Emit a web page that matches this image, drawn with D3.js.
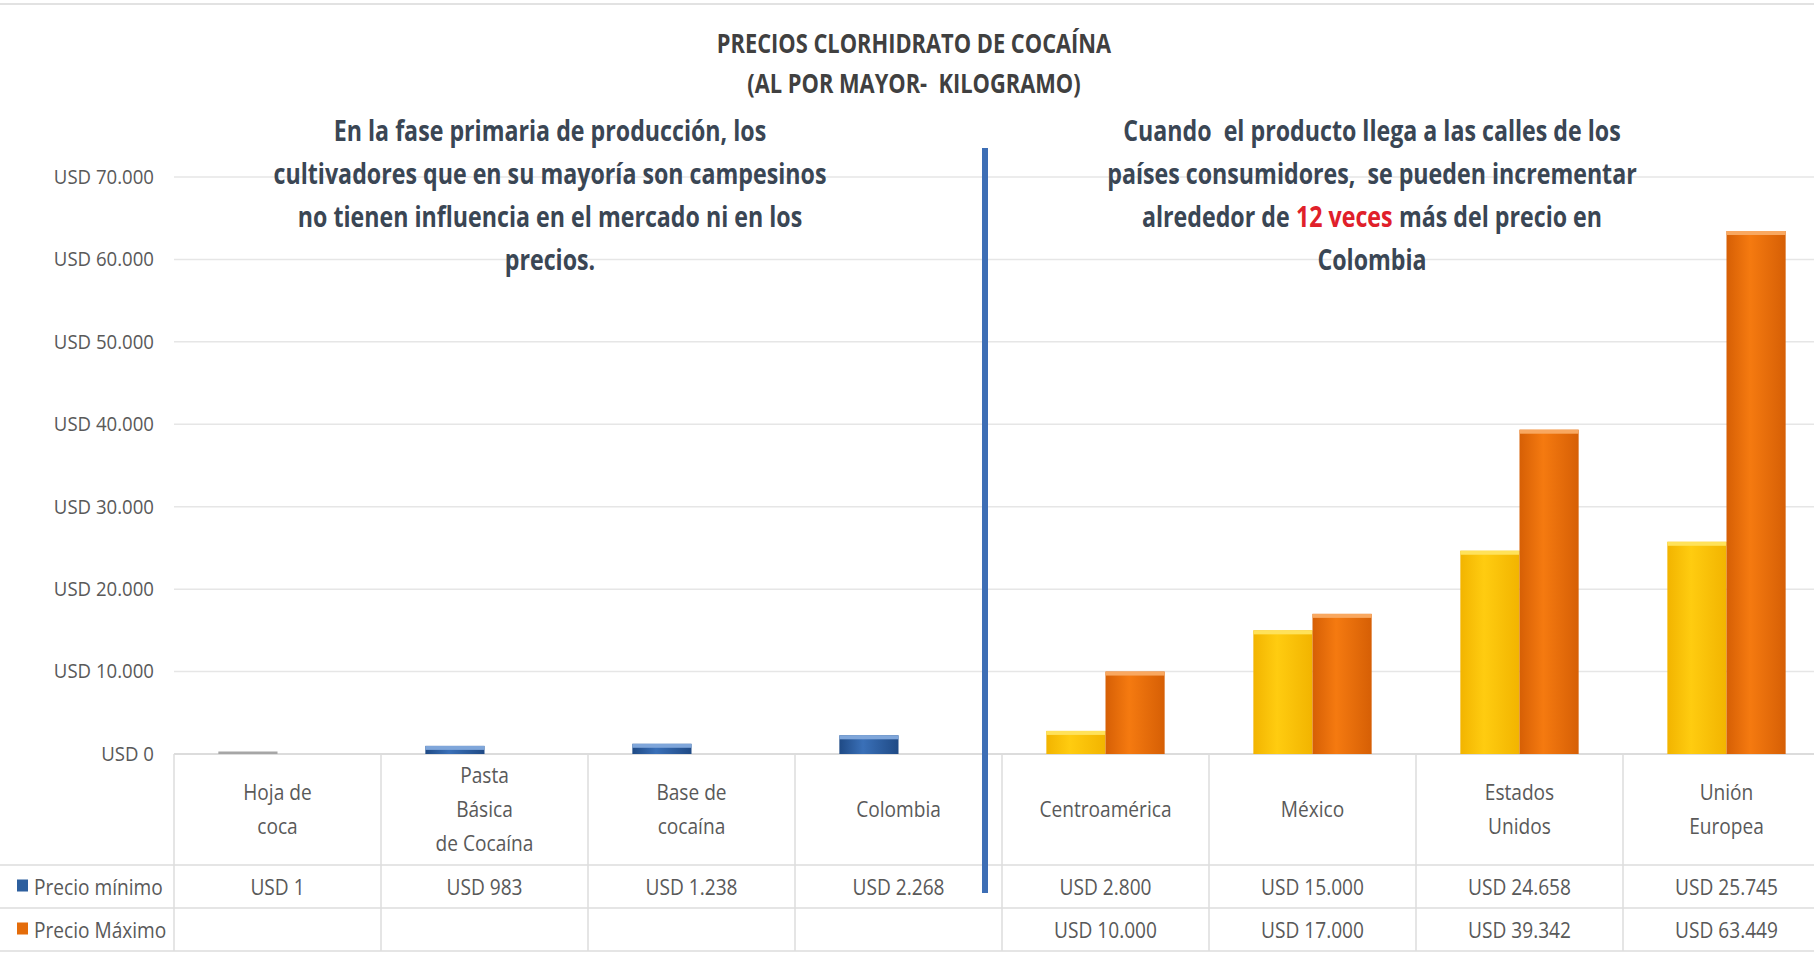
<!DOCTYPE html>
<html>
<head>
<meta charset="utf-8">
<script src="https://cdn.jsdelivr.net/npm/d3@7"></script>
<style>
  body { margin: 0; background: #fff; }
  text { font-family: "Open Sans", sans-serif; }
</style>
</head>
<body>
<script>
// datos
var categorias = ["Hoja de coca", "Pasta Básica de Cocaína", "Base de cocaína", "Colombia",
  "Centroamérica", "México", "Estados Unidos", "Unión Europea"];
var etiquetas = [["Hoja de", "coca"], ["Pasta", "Básica", "de Cocaína"], ["Base de", "cocaína"], ["Colombia"],
  ["Centroamérica"], ["México"], ["Estados", "Unidos"], ["Unión", "Europea"]];
var precioMinimo = [1, 983, 1238, 2268, 2800, 15000, 24658, 25745];
var precioMaximo = [null, null, null, null, 10000, 17000, 39342, 63449];
var series = ["Precio mínimo", "Precio Máximo"];
var yTicks = [0, 10000, 20000, 30000, 40000, 50000, 60000, 70000];
var nProduccion = 4; // las primeras categorias son fase de produccion

var W = 1814, H = 958;
var margin = {top: 177, left: 174, bottom: 204};
var plotBottom = H - margin.bottom; // 754

var locale = d3.formatLocale({decimal: ",", thousands: ".", grouping: [3], currency: ["", ""]});
var fmt = locale.format(",d");
var usd = function(v){ return "USD " + fmt(v); };

// estrecha el texto para parecerse a Calibri
function condense(sel, f) {
  sel.each(function() {
    var w = this.getComputedTextLength();
    d3.select(this).attr("textLength", w * f).attr("lengthAdjust", "spacingAndGlyphs");
  });
}

var svg = d3.select("body").append("svg")
  .attr("width", W)
  .attr("height", H);

var defs = svg.append("defs");
function grad(id, c1, c2) {
  var g = defs.append("linearGradient").attr("id", id)
    .attr("x1", "0%").attr("x2", "100%").attr("y1", "0%").attr("y2", "0%");
  g.append("stop").attr("offset", "0%").attr("stop-color", c2);
  g.append("stop").attr("offset", "40%").attr("stop-color", c1);
  g.append("stop").attr("offset", "100%").attr("stop-color", c2);
}
grad("gBlue", "#3a70b8", "#1f4a85");
grad("gYellow", "#ffcc10", "#f2b400");
grad("gOrange", "#f57a10", "#d65f05");

// borde superior
svg.append("line")
  .attr("x1", 0).attr("x2", W).attr("y1", 4).attr("y2", 4)
  .attr("stroke", "#e2e2e2").attr("stroke-width", 2);

var x = d3.scaleBand().domain(categorias).range([margin.left, margin.left + 207 * categorias.length]);
var x1 = d3.scaleBand().domain(series).range([0, x.bandwidth()]).paddingOuter(0.75);
var y = d3.scaleLinear().domain([0, 70000]).range([plotBottom, margin.top]);

// lineas de cuadricula
svg.append("g")
  .attr("class", "grid")
  .selectAll("line")
  .data(yTicks)
  .enter().append("line")
  .attr("x1", margin.left).attr("x2", W)
  .attr("y1", function(d){ return y(d); })
  .attr("y2", function(d){ return y(d); })
  .attr("stroke", function(d){ return d === 0 ? "#d0d0d0" : "#e6e6e6"; })
  .attr("stroke-width", 1.5);

// eje Y
var yAxis = svg.append("g")
  .attr("transform", "translate(" + (margin.left - 20) + ",0)")
  .call(d3.axisLeft(y).tickValues(yTicks).tickFormat(usd).tickSize(0).tickPadding(0));
yAxis.select(".domain").remove();
yAxis.selectAll("text")
  .attr("fill", "#595959")
  .style("font-size", "20px")
  .style("font-family", "'Open Sans', sans-serif")
  .call(condense, 0.93);

// barras
var barras = svg.append("g");
categorias.forEach(function(c, i) {
  var vals = [precioMinimo[i], precioMaximo[i]];
  vals.forEach(function(v, j) {
    if (v === null) return;
    var fill = j === 1 ? "url(#gOrange)" : (i < nProduccion ? "url(#gBlue)" : "url(#gYellow)");
    var top = y(v);
    var h = Math.max(plotBottom - top, 2.5);
    var bx = x(c) + x1(series[j]);
    barras.append("rect")
      .attr("x", bx).attr("y", plotBottom - h)
      .attr("width", x1.bandwidth()).attr("height", h)
      .attr("fill", i === 0 ? "#a6a6a6" : fill);
    if (h > 6) {
      var capColor = j === 1 ? "#f9a860" : (i < nProduccion ? "#7fa6da" : "#ffe25a");
      barras.append("rect")
        .attr("x", bx).attr("y", plotBottom - h)
        .attr("width", x1.bandwidth()).attr("height", 4)
        .attr("fill", capColor);
    }
  });
});

// tabla de datos
var tabla = svg.append("g");
var rowY = [plotBottom, 865, 908, 951];
var lineColor = "#dcdcdc";
rowY.slice(1).forEach(function(ry) {
  tabla.append("line")
    .attr("x1", 0).attr("x2", W).attr("y1", ry).attr("y2", ry)
    .attr("stroke", lineColor).attr("stroke-width", 1.5);
});
categorias.forEach(function(c, i) {
  var xl = x(c);
  tabla.append("line")
    .attr("x1", xl).attr("x2", xl)
    .attr("y1", plotBottom).attr("y2", rowY[3])
    .attr("stroke", lineColor).attr("stroke-width", 1.5);
  var lines = etiquetas[i];
  var cx = xl + x.bandwidth() / 2;
  var midY = (rowY[0] + rowY[1]) / 2 + 7;
  lines.forEach(function(t, k) {
    tabla.append("text")
      .attr("x", cx)
      .attr("y", midY + (k - (lines.length - 1) / 2) * 34)
      .attr("text-anchor", "middle")
      .attr("fill", "#595959")
      .style("font-size", "21px")
      .text(t)
      .call(condense, 0.91);
  });
  [precioMinimo[i], precioMaximo[i]].forEach(function(v, j) {
    if (v === null) return;
    tabla.append("text")
      .attr("x", cx)
      .attr("y", (rowY[j + 1] + rowY[j + 2]) / 2 + 8)
      .attr("text-anchor", "middle")
      .attr("fill", "#595959")
      .style("font-size", "21px")
      .text(usd(v))
      .call(condense, 0.91);
  });
});

// leyenda en la tabla
var legendColors = ["#2d5f9e", "#e46c0a"];
series.forEach(function(s, j) {
  var cy = (rowY[j + 1] + rowY[j + 2]) / 2;
  tabla.append("rect")
    .attr("x", 17).attr("y", cy - 7).attr("width", 11).attr("height", 12)
    .attr("fill", legendColors[j]);
  tabla.append("text")
    .attr("x", 34).attr("y", cy + 8)
    .attr("fill", "#595959")
    .style("font-size", "21px")
    .text(s)
    .call(condense, 0.91);
});

// linea divisoria entre produccion y consumo
var divX = x(categorias[nProduccion]) - 17;
svg.append("line")
  .attr("x1", divX).attr("x2", divX)
  .attr("y1", 148).attr("y2", 893)
  .attr("stroke", "#3d6eb5").attr("stroke-width", 6);

// titulo
var titulo = ["PRECIOS CLORHIDRATO DE COCAÍNA", "(AL POR MAYOR-  KILOGRAMO)"];
titulo.forEach(function(t, k) {
  svg.append("text")
    .attr("x", 914).attr("y", 53 + k * 40)
    .attr("text-anchor", "middle")
    .attr("fill", "#404040")
    .style("font-size", "26px")
    .style("font-weight", "bold")
    .style("white-space", "pre")
    .text(t)
    .call(condense, 0.84);
});

// anotaciones
var notaIzq = ["En la fase primaria de producción, los", "cultivadores que en su mayoría son campesinos",
  "no tienen influencia en el mercado ni en los", "precios."];
notaIzq.forEach(function(t, k) {
  svg.append("text")
    .attr("x", 550).attr("y", 141 + k * 43)
    .attr("text-anchor", "middle")
    .attr("fill", "#3a4654")
    .style("font-size", "29px")
    .style("font-weight", "bold")
    .text(t)
    .call(condense, 0.8);
});

var notaDer = [["Cuando  el producto llega a las calles de los"], ["países consumidores,  se pueden incrementar"],
  ["alrededor de", "12 veces", "más del precio en"], ["Colombia"]];
var espacio = 8;
notaDer.forEach(function(parts, k) {
  // cada trozo es un texto aparte; el grupo se estrecha con scale
  var g = svg.append("g")
    .attr("transform", "translate(1372," + (141 + k * 43) + ") scale(0.8,1)");
  var piezas = parts.map(function(p) {
    var t = g.append("text")
      .attr("y", 0)
      .attr("fill", p === "12 veces" ? "#e0202a" : "#3a4654")
      .style("font-size", "29px")
      .style("font-weight", "bold")
      .style("white-space", "pre")
      .text(p);
    return {t: t, w: t.node().getComputedTextLength()};
  });
  var total = d3.sum(piezas, function(d){ return d.w; }) + espacio * (piezas.length - 1);
  var cx = -total / 2;
  piezas.forEach(function(d) {
    d.t.attr("x", cx);
    cx += d.w + espacio;
  });
});
</script>
</body>
</html>
